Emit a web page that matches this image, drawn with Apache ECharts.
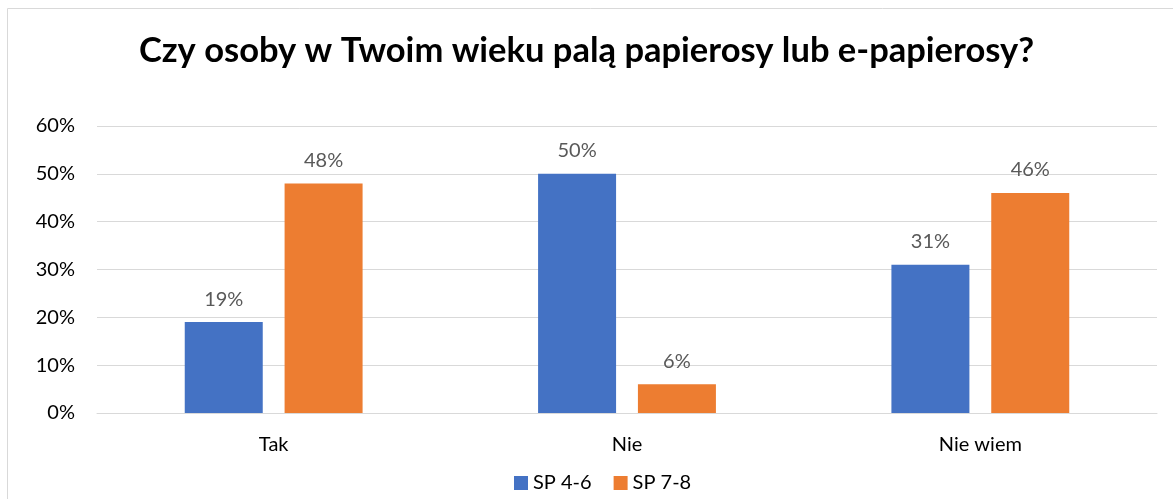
<!DOCTYPE html>
<html>
<head>
<meta charset="utf-8">
<script src="https://cdn.jsdelivr.net/npm/echarts@6/dist/echarts.min.js"></script>
<style>
  html, body { margin: 0; padding: 0; background: #fff; }
  #chart { width: 1173px; height: 499px; }
</style>
</head>
<body>
<div id="chart"></div>
<script>
// dane z wykresu
const categories = ['Tak', 'Nie', 'Nie wiem'];
const seriesNames = ['SP 4-6', 'SP 7-8'];
const sp46 = [19, 50, 31];
const sp78 = [48, 6, 46];
const colors = ['#4472C4', '#ED7D31'];

const font = 'Lato, "Open Sans", "Noto Sans", sans-serif';

const chart = echarts.init(document.getElementById('chart'));

const labelCfg = {
  show: true,
  position: 'top',
  distance: 13,
  formatter: '{c}%',
  color: '#595959',
  fontSize: 20,
  fontFamily: font,
};

chart.setOption({
  animation: false,
  title: {
    text: 'Czy osoby w Twoim wieku palą papierosy lub e-papierosy?',
    left: 'center',
    top: 28,
    textStyle: {
      fontSize: 34.5,
      fontWeight: 'bold',
      color: '#000',
      fontFamily: font,
    },
  },
  graphic: [
    {
      type: 'rect',
      shape: { x: 7.5, y: 8.5, width: 1180, height: 500 },
      style: { fill: 'none', stroke: '#d9d9d9', lineWidth: 1 },
      silent: true,
    },
  ],
  legend: {
    data: seriesNames,
    bottom: 1,
    left: 509,
    itemWidth: 14,
    itemHeight: 14,
    itemGap: 22,
    icon: 'rect',
    textStyle: { fontSize: 20, color: '#000', fontFamily: font },
  },
  grid: {
    left: 97,
    right: 16,
    top: 126,
    bottom: 86,
    containLabel: false,
  },
  xAxis: {
    type: 'category',
    data: categories,
    axisLine: { show: true, lineStyle: { color: '#d9d9d9', width: 1 } },
    axisTick: { show: false },
    axisLabel: {
      fontSize: 20,
      color: '#000',
      fontFamily: font,
      margin: 22,
    },
  },
  yAxis: {
    type: 'value',
    min: 0,
    max: 60,
    interval: 10,
    axisLine: { show: false },
    axisTick: { show: false },
    axisLabel: {
      formatter: '{value}%',
      fontSize: 20,
      color: '#000',
      fontFamily: font,
      margin: 22,
    },
    splitLine: { lineStyle: { color: '#d9d9d9', width: 1 } },
  },
  series: [
    {
      name: seriesNames[0],
      type: 'bar',
      data: sp46,
      barWidth: 78,
      barGap: '28%',
      itemStyle: { color: colors[0] },
      label: labelCfg,
    },
    {
      name: seriesNames[1],
      type: 'bar',
      data: sp78,
      barWidth: 78,
      itemStyle: { color: colors[1] },
      label: labelCfg,
    },
  ],
});
</script>
</body>
</html>
